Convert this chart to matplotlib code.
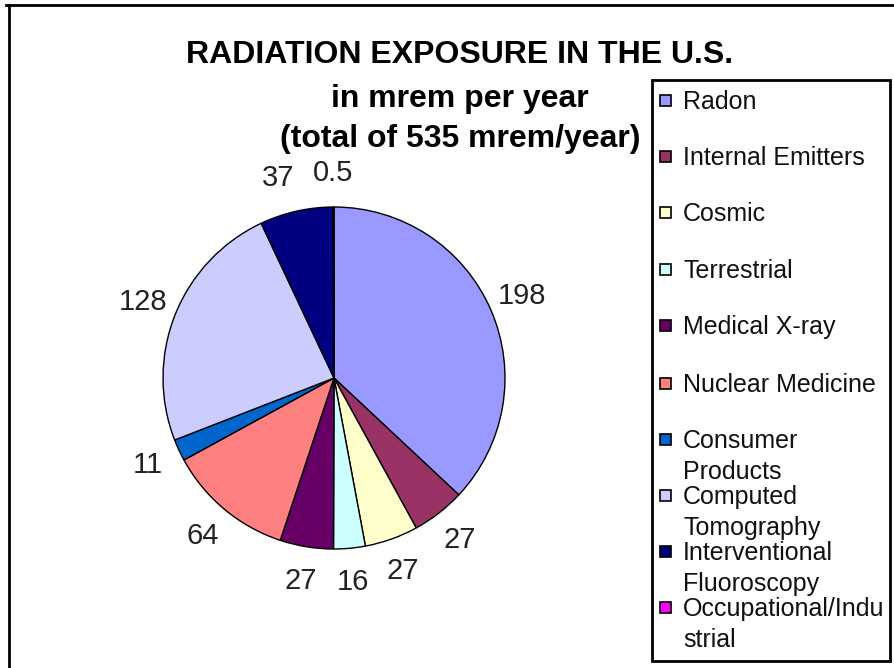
import matplotlib.pyplot as plt
from matplotlib.patches import Rectangle

plt.rcParams['font.family'] = ['Liberation Sans', 'DejaVu Sans']

# Data
sources = ['Radon', 'Internal Emitters', 'Cosmic', 'Terrestrial', 'Medical X-ray',
           'Nuclear Medicine', 'Consumer\nProducts', 'Computed\nTomography',
           'Interventional\nFluoroscopy', 'Occupational/Indu\nstrial']
doses = [198, 27, 27, 16, 27, 64, 11, 128, 37, 0.5]
dose_labels = ['198', '27', '27', '16', '27', '64', '11', '128', '37', '0.5']
colors = ['#9999FF', '#993366', '#FFFFCC', '#CCFFFF', '#660066',
          '#FF8080', '#0066CC', '#CCCCFF', '#000080', '#FF00FF']

W, H = 894, 668
fig = plt.figure(figsize=(W / 100, H / 100), dpi=100)

# outer frame (top and left edges visible)
fig.add_artist(plt.Line2D([6 / W, 1], [1 - 5 / H, 1 - 5 / H], color='black', lw=2))
fig.add_artist(plt.Line2D([9 / W, 9 / W], [0, 1 - 5 / H], color='black', lw=2))

# title
title_lines = ['RADIATION EXPOSURE IN THE U.S.', 'in mrem per year', '(total of 535 mrem/year)']
title_y = [55, 99, 139]
for line, y in zip(title_lines, title_y):
    fig.text(460 / W, 1 - y / H, line, ha='center', va='center',
             fontsize=23, fontweight='bold')

# pie
cx, cy, r = 334, 378, 171
ax = fig.add_axes([(cx - r) / W, 1 - (cy + r) / H, 2 * r / W, 2 * r / H])
wedges, texts = ax.pie(doses, colors=colors, startangle=90, counterclock=False,
                       labels=dose_labels, labeldistance=1.2,
                       wedgeprops=dict(edgecolor='black', linewidth=1),
                       textprops=dict(fontsize=21, color='#222222'))
for t in texts:
    t.set_ha('center')
    t.set_va('center')
# nudge the 37 label left so it clears 0.5
x37, y37 = texts[8].get_position()
texts[8].set_position((x37 - 0.06, y37))
ax.set_xlim(-1, 1)
ax.set_ylim(-1, 1)
ax.set_aspect('equal')

# legend box
lx0, ly0, lx1, ly1 = 652, 80, 890, 661
fig.add_artist(Rectangle((lx0 / W, 1 - ly1 / H), (lx1 - lx0) / W, (ly1 - ly0) / H,
                         transform=fig.transFigure, fill=False, edgecolor='black', lw=2))
legend_y = [100, 156, 212, 269, 325, 383, 439, 495, 551, 607]
for name, col, y in zip(sources, colors, legend_y):
    fig.add_artist(Rectangle((660 / W, 1 - (y + 6) / H), 11 / W, 11 / H,
                             transform=fig.transFigure, facecolor=col,
                             edgecolor='black', lw=1.2))
    fig.text(683 / W, 1 - (y - 10) / H, name, ha='left', va='top',
             fontsize=18, linespacing=1.35, color='#111111')

fig.savefig('out.png', dpi=100)
